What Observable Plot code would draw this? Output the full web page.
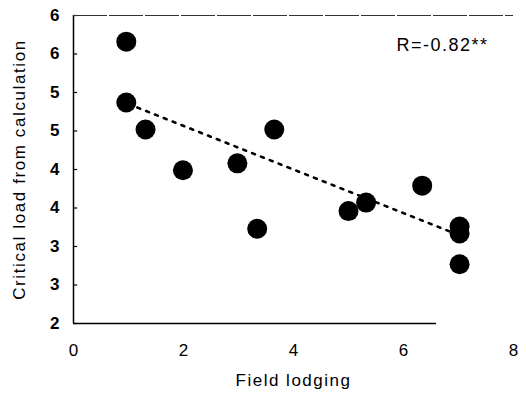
<!DOCTYPE html>
<html>
<head>
<meta charset="utf-8">
<script src="https://cdn.jsdelivr.net/npm/d3@7"></script>
<script src="https://cdn.jsdelivr.net/npm/@observablehq/plot@0.6"></script>
<style>
  html, body { margin: 0; padding: 0; background: #fff; }
  #chart svg { display: block; font-family: "Liberation Sans", Arial, sans-serif; }
</style>
</head>
<body>
<div id="chart"></div>
<script>
// Field lodging (x) vs critical load from calculation (y)
const fieldLodging = [0.96, 0.96, 1.31, 1.99, 2.98, 3.34, 3.65, 5.00, 5.32, 6.34, 7.02, 7.02, 7.02];
const criticalLoad = [5.66, 4.87, 4.52, 3.99, 4.08, 3.23, 4.52, 3.46, 3.57, 3.79, 3.26, 3.17, 2.77];

// dotted trend line end points
const trendX = [1.0, 7.0];
const trendY = [4.85, 3.15];

const xTicks = [0, 2, 4, 6, 8];
const yTicks = [2, 2.5, 3, 3.5, 4, 4.5, 5, 5.5, 6];
const yTickLabels = ["2", "3", "3", "4", "4", "5", "5", "6", "6"];

const xTitle = "Field lodging";
const yTitle = "Critical load from calculation";
const rLabel = "R=-0.82**";
const bottomLineEnd = 6.6;

const points = fieldLodging.map((x, i) => ({x, y: criticalLoad[i]}));
const trend = trendX.map((x, i) => ({x, y: trendY[i]}));

const chart = Plot.plot({
  width: 526,
  height: 405,
  marginLeft: 73,
  marginRight: 13,
  marginTop: 15,
  marginBottom: 82,
  style: {fontFamily: "'Liberation Sans', Arial, sans-serif", fontSize: "17px", color: "#000", background: "#fff"},
  x: {domain: [0, 8], ticks: xTicks, tickSize: 0, tickPadding: 20, label: null},
  y: {domain: [2, 6], ticks: yTicks, tickSize: 0, tickPadding: 14, label: null,
      tickFormat: d => yTickLabels[yTicks.indexOf(d)]},
  marks: [
    Plot.ruleX([0], {stroke: "#000", strokeWidth: 1.5}),
    Plot.ruleY(yTicks, {x1: 0, x2: 0.075, stroke: "#000", strokeWidth: 1.2}),
    Plot.ruleY([6], {stroke: "#333", strokeWidth: 1.1, strokeDasharray: "34,2"}),
    Plot.ruleY([2], {x1: 0, x2: bottomLineEnd, stroke: "#000", strokeWidth: 1.5}),
    Plot.line(trend, {x: "x", y: "y", stroke: "#000", strokeWidth: 2.6, strokeDasharray: "3,6.5"}),
    Plot.dot(points, {x: "x", y: "y", r: 10, fill: "#000", stroke: "none"}),
    Plot.text([rLabel], {frameAnchor: "top-right", dx: -25, dy: 30, textAnchor: "end", lineAnchor: "middle", fontSize: 18, fill: "#000"}),
    Plot.text([xTitle], {frameAnchor: "bottom", dy: 57.5, textAnchor: "middle", lineAnchor: "middle", fontSize: 17, fill: "#000"}),
    Plot.text([yTitle], {frameAnchor: "left", dx: -54, rotate: -90, textAnchor: "middle", lineAnchor: "middle", fontSize: 17, fill: "#000"})
  ]
});
document.getElementById("chart").appendChild(chart);

// typographic tweaks
const svg = d3.select(chart);
svg.selectAll("text").each(function () {
  const t = this.textContent;
  if (t === xTitle) d3.select(this).style("letter-spacing", "1.5px");
  if (t === yTitle) d3.select(this).style("letter-spacing", "1.6px");
  if (t === rLabel) d3.select(this).style("letter-spacing", "1.5px");
});
svg.selectAll("[aria-label='y-axis tick label'] text, g[aria-label='y-axis'] text").style("font-weight", "bold");
</script>
</body>
</html>
